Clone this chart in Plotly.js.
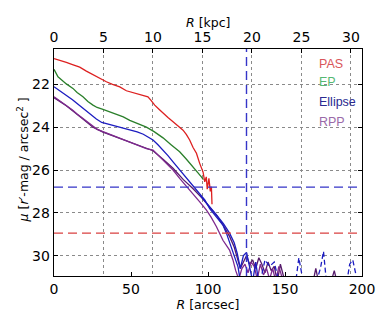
<!DOCTYPE html>
<html>
<head>
<meta charset="utf-8">
<script src="https://cdn.plot.ly/plotly-3.0.1.min.js"></script>
<style>html,body{margin:0;padding:0;background:#fff;}#chart{width:390px;height:325px;}</style>
</head>
<body>
<div id="chart"></div>
<script>
// ---- data (R in arcsec, mu in r'-mag/arcsec^2) ----
const pasR  = [0, 4, 8, 12, 16.7, 21, 25.3, 30, 34, 38, 42.7, 47, 51, 55, 58, 61, 63, 65.4, 68, 70.8, 74, 77.3, 80.5, 83.8, 86, 88.1, 90.3, 92.5, 94.6, 96.8, 97.9, 98.9, 99.5, 100, 100.6, 101.5, 102.2, 102.6];
const pasMu = [20.8, 20.88, 20.98, 21.08, 21.2, 21.38, 21.55, 21.72, 21.88, 22.0, 22.12, 22.3, 22.38, 22.45, 22.5, 22.58, 22.75, 22.97, 23.15, 23.36, 23.55, 23.75, 23.95, 24.14, 24.35, 24.6, 24.95, 25.22, 25.69, 26.1, 26.55, 26.32, 26.9, 26.7, 26.39, 27.0, 26.78, 27.6];

const epR  = [0, 1, 2.6, 5, 8, 12.3, 15, 18.8, 22, 25.3, 28, 31.8, 36, 40.5, 45, 49.2, 55, 60, 65, 70.8, 76, 81.6, 86, 90.3, 93, 95.7, 97];
const epMu = [21.3, 21.45, 21.65, 21.8, 21.98, 22.19, 22.38, 22.58, 22.8, 22.97, 23.08, 23.17, 23.27, 23.38, 23.52, 23.68, 23.84, 24.0, 24.21, 24.5, 24.82, 25.15, 25.5, 25.85, 26.1, 26.32, 26.45];

const ellR  = [0, 4, 8, 12, 15, 18.8, 23, 27.5, 31, 36, 41, 46, 50, 54, 58, 61, 64.3, 67.5, 70.8, 74, 77.3, 80.5, 83.8, 87, 90.3, 94, 97.9, 101.1, 105.5, 109.7, 112, 115.2, 117.3, 119.5, 121];
const ellMu = [22.11, 22.3, 22.5, 22.72, 22.9, 23.12, 23.4, 23.62, 23.78, 23.88, 23.96, 24.05, 24.13, 24.22, 24.33, 24.45, 24.6, 24.82, 25.07, 25.33, 25.62, 25.9, 26.16, 26.45, 26.78, 27.1, 27.4, 27.8, 28.19, 28.57, 28.96, 29.59, 30.06, 30.52, 31.2];

const ell2R  = [95, 100, 105, 110, 114, 117, 119, 121, 123, 125, 127, 129, 131, 133];
const ell2Mu = [27.2, 27.6, 28.05, 28.5, 28.95, 29.4, 29.9, 30.6, 30.0, 29.85, 30.5, 31.2, 30.3, 31.3];

const ellTailR  = [134, 137, 140, 143, 146, 150, 154, 157, 159, 162, 166, 170, 173, 175, 177, 180, 185, 190, 192, 194, 197];
const ellTailMu = [31.2, 30.2, 30.5, 30.3, 31.2, 31.5, 31.4, 31.2, 30.1, 31.3, 31.5, 31.3, 30.6, 29.8, 31.3, 31.5, 31.5, 31.3, 30.4, 30.2, 31.2];

const rppR  = [0, 4, 8, 12, 15, 18.8, 22, 25.3, 28, 31.8, 36, 40.5, 45, 49.2, 53, 57, 60, 64.3, 67.5, 70.8, 74, 77.3, 81.6, 86, 90.3, 94.5, 99, 102, 105.5, 109.7, 114, 116.2, 118, 120, 122, 124, 126, 128, 130, 132, 134, 136, 138, 140, 142, 144, 146, 148, 150, 152];
const rppMu = [22.58, 22.78, 22.97, 23.2, 23.38, 23.59, 23.8, 23.98, 24.1, 24.21, 24.33, 24.45, 24.55, 24.68, 24.8, 24.92, 25.0, 25.07, 25.3, 25.54, 25.77, 26.0, 26.39, 26.75, 27.1, 27.48, 27.87, 28.2, 28.65, 29.28, 29.74, 30.2, 30.7, 31.1, 30.6, 30.4, 30.8, 30.3, 30.5, 31.1, 30.4, 30.9, 30.6, 31.1, 30.6, 31.2, 30.5, 31.0, 31.3, 31.5];

const rpp2R  = [0, 8, 18.8, 25.3, 31.8, 40.5, 49.2, 57, 64.3, 70.8, 77.3, 84, 90, 96, 101, 106, 110, 114, 117, 119, 121, 123, 125, 127, 129, 131, 133, 135, 137, 139, 141, 143, 145, 147, 149, 151, 160, 168, 170, 172, 176, 180, 182, 184, 186, 190];
const rpp2Mu = [22.62, 23.0, 23.62, 24.0, 24.23, 24.47, 24.7, 24.93, 25.1, 25.5, 25.92, 26.45, 26.85, 27.3, 27.7, 28.15, 28.6, 29.1, 29.6, 30.1, 30.6, 30.3, 30.0, 30.4, 30.2, 30.6, 30.1, 30.4, 30.8, 30.3, 30.7, 30.5, 31.2, 30.4, 31.0, 31.5, 31.5, 31.3, 30.6, 31.3, 31.5, 31.2, 30.7, 31.3, 31.5, 31.5];

const muLimitEllipse = 26.8;
const muLimitPAS = 28.95;
const rLimit = 125;

const legendLabels = ['PAS', 'EP', 'Ellipse', 'RPP'];
const xTicks = [0, 50, 100, 150, 200];
const kpcTicks = [0, 5, 10, 15, 20, 25, 30];
const yTicks = [22, 24, 26, 28, 30];
const kpcPerArcsec = 30 / 192.8;

// ---- styles ----
const cRed = '#dd2020', cGreen = '#2a7f2a', cBlue = '#1c1cc0', cPurple = '#7e2a8e', cPurple2 = '#551a6a';
const legendColors = ['#d9555a', '#55b872', '#2a2a90', '#9a6aa8'];
const legendY = [0.935, 0.855, 0.767, 0.679];
const fontFam = 'DejaVu Sans, Arial, sans-serif';
const legendFont = 'Liberation Sans, Arial, sans-serif';

function line(x, y, color, dash, width) {
  return {x: x, y: y, type: 'scatter', mode: 'lines', xaxis: 'x', yaxis: 'y',
          line: {color: color, width: width || 1.3, dash: dash || 'solid'},
          showlegend: false, hoverinfo: 'skip'};
}

const traces = [
  line(rpp2R, rpp2Mu, cPurple2),
  line(rppR, rppMu, cPurple),
  line(ell2R, ell2Mu, cBlue),
  line(ellTailR, ellTailMu, cBlue, '5px,3px'),
  line(ellR, ellMu, cBlue),
  line(epR, epMu, cGreen),
  line(pasR, pasMu, cRed),
  {x: [0, 200 * kpcPerArcsec], y: [null, null], xaxis: 'x2', yaxis: 'y', type: 'scatter', mode: 'lines', showlegend: false, hoverinfo: 'skip'}
];

const dashStyle = '9px,5px';
const shapes = [
  {type: 'line', xref: 'paper', x0: 0, x1: 1, yref: 'y', y0: muLimitEllipse, y1: muLimitEllipse, line: {color: '#3535c8', width: 1.4, dash: dashStyle}},
  {type: 'line', xref: 'paper', x0: 0, x1: 1, yref: 'y', y0: muLimitPAS, y1: muLimitPAS, line: {color: '#d94040', width: 1.4, dash: dashStyle}},
  {type: 'line', xref: 'x', x0: rLimit, x1: rLimit, yref: 'paper', y0: 0, y1: 1, line: {color: '#3535c8', width: 1.4, dash: dashStyle}}
];

const titleFont = {family: fontFam, size: 12.5, color: '#000'};

const annotations = legendLabels.map((t, i) => ({
  text: t, xref: 'paper', yref: 'paper', x: 0.853, y: legendY[i],
  xanchor: 'left', yanchor: 'middle', showarrow: false,
  font: {family: legendFont, size: 12.5, color: legendColors[i]}
}));
// axis titles (top kpc axis and y axis) placed as annotations
annotations.push({
  text: '<i>R</i> [kpc]', xref: 'paper', yref: 'paper', x: 0.5, y: 1.118,
  xanchor: 'center', yanchor: 'middle', showarrow: false, font: titleFont
});
annotations.push({
  text: '<i>μ</i> [<i>r′</i>-mag / arcsec<sup>2</sup> ]', xref: 'paper', yref: 'paper', x: -0.1, y: 0.51,
  xanchor: 'center', yanchor: 'middle', textangle: -90, showarrow: false, font: titleFont
});

const axisCommon = {
  showline: true, linecolor: '#000', linewidth: 1.3,
  ticks: 'inside', ticklen: 4, tickcolor: '#000', tickwidth: 1,
  tickfont: {family: fontFam, size: 14, color: '#000'},
  zeroline: false, gridcolor: '#8a8a8a', gridwidth: 1, griddash: 'dot'
};

const layout = {
  width: 390, height: 325,
  margin: {l: 54, r: 28, t: 49, b: 49},
  paper_bgcolor: '#fff', plot_bgcolor: '#fff',
  showlegend: false,
  xaxis: Object.assign({}, axisCommon, {
    range: [0, 200], tickvals: xTicks, showgrid: false, side: 'bottom',
    title: {text: '<i>R</i> [arcsec]', font: titleFont, standoff: 3}
  }),
  xaxis2: Object.assign({}, axisCommon, {
    range: [0, 200 * kpcPerArcsec], tickvals: kpcTicks, showgrid: true,
    overlaying: 'x', side: 'top', anchor: 'y'
  }),
  yaxis: Object.assign({}, axisCommon, {
    range: [30.95, 20.35], tickvals: yTicks, showgrid: true, mirror: 'ticks'
  }),
  shapes: shapes,
  annotations: annotations
};

Plotly.newPlot('chart', traces, layout, {staticPlot: true, displayModeBar: false});
</script>
</body>
</html>
